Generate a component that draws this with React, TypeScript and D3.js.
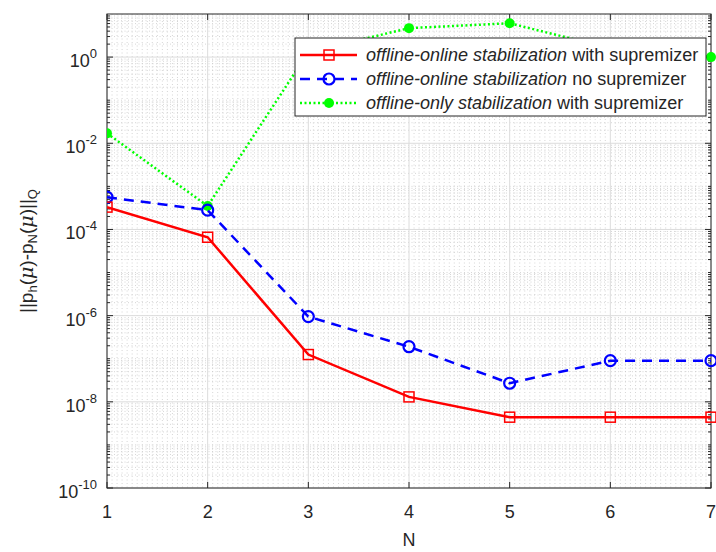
import React from "react";
import * as d3 from "d3";

const Ns = [1, 2, 3, 4, 5, 6, 7];
const redVals = [3.3e-4, 6.6e-5, 1.25e-7, 1.3e-8, 4.4e-9, 4.4e-9, 4.4e-9];
const blueVals = [5.6e-4, 2.8e-4, 9.5e-7, 1.9e-7, 2.7e-8, 9e-8, 9e-8];
const greenVals = [1.7e-2, 3.5e-4, 1.3, 4.7, 6.1, 1.6, 1.0];
const yTickExps = [-10, -8, -6, -4, -2, 0];
const legendItalic = [
  "offline-online stabilization",
  "offline-online stabilization",
  "offline-only stabilization",
];
const legendPlain = [" with supremizer", " no supremizer", " with supremizer"];

const W = 716;
const H = 552;
const L = 107, R = 711, T = 14, B = 488;
const FONT = "'Liberation Sans', Arial, Helvetica, sans-serif";
const TXT = "#262626";

export default function App() {
  const x = d3.scaleLinear().domain([1, 7]).range([L, R]);
  const y = d3.scaleLog().domain([1e-10, 10]).range([B, T]);

  const minorX = d3.range(1, 7.0001, 0.05).filter((v) => Math.abs(v - Math.round(v)) > 1e-6);
  const minorY: number[] = [];
  for (let k = -10; k <= 0; k++) {
    for (let m = 1; m <= 9; m++) {
      if (m === 1 && k % 2 === 0) continue;
      minorY.push(m * Math.pow(10, k));
    }
  }

  const line = d3
    .line<[number, number]>()
    .x((d) => x(d[0]))
    .y((d) => y(d[1]));
  const pts = (vals: number[]) => Ns.map((n, i) => [n, vals[i]] as [number, number]);

  const legX = 295, legY = 38, legW = 411, legH = 78;
  const rowY = [55, 79, 103];
  const colors = ["#ff0000", "#0000ff", "#00ff00"];

  return (
    <svg width={W} height={H} style={{ position: "fixed", left: 0, top: 0, background: "#fff" }} fontFamily={FONT}>
      <rect x={0} y={0} width={W} height={H} fill="#fff" />
      <defs>
        <clipPath id="plotclip">
          <rect x={L} y={T - 8} width={R - L + 8} height={B - T + 16} />
        </clipPath>
      </defs>
      {/* minor grid */}
      {minorX.map((v, i) => (
        <line key={"mx" + i} x1={x(v)} x2={x(v)} y1={T} y2={B} stroke="#c4c4c4" strokeWidth={0.7} strokeDasharray="1,2.5" />
      ))}
      {minorY.map((v, i) => (
        <line key={"my" + i} x1={L} x2={R} y1={y(v)} y2={y(v)} stroke="#c4c4c4" strokeWidth={0.7} strokeDasharray="1,2.5" />
      ))}
      {/* major grid */}
      {Ns.map((n) => (
        <line key={"gx" + n} x1={x(n)} x2={x(n)} y1={T} y2={B} stroke="#dcdcdc" strokeWidth={1} />
      ))}
      {yTickExps.map((e) => (
        <line key={"gy" + e} x1={L} x2={R} y1={y(Math.pow(10, e))} y2={y(Math.pow(10, e))} stroke="#dcdcdc" strokeWidth={1} />
      ))}
      {/* ticks */}
      {Ns.map((n) => (
        <g key={"tx" + n}>
          <line x1={x(n)} x2={x(n)} y1={B} y2={B - 6} stroke={TXT} />
          <line x1={x(n)} x2={x(n)} y1={T} y2={T + 6} stroke={TXT} />
          <text x={x(n)} y={518} textAnchor="middle" fontSize={18} fill={TXT}>{n}</text>
        </g>
      ))}
      {minorY.map((v, i) => (
        <g key={"mty" + i}>
          <line x1={L} x2={L + 3} y1={y(v)} y2={y(v)} stroke={TXT} />
          <line x1={R} x2={R - 3} y1={y(v)} y2={y(v)} stroke={TXT} />
        </g>
      ))}
      {yTickExps.map((e) => (
        <g key={"ty" + e}>
          <line x1={L} x2={L + 6} y1={y(Math.pow(10, e))} y2={y(Math.pow(10, e))} stroke={TXT} />
          <line x1={R} x2={R - 6} y1={y(Math.pow(10, e))} y2={y(Math.pow(10, e))} stroke={TXT} />
          <text x={97} y={y(Math.pow(10, e)) + 10} textAnchor="end" fontSize={18} fill={TXT}>
            10<tspan dy={-9} fontSize={13}>{e === 0 ? "0" : "-" + Math.abs(e)}</tspan>
          </text>
        </g>
      ))}
      {/* frame */}
      <rect x={L} y={T} width={R - L} height={B - T} fill="none" stroke={TXT} strokeWidth={1} />

      {/* series */}
      <g clipPath="url(#plotclip)">
        <path d={line(pts(greenVals)) || ""} fill="none" stroke="#00ff00" strokeWidth={2.5} strokeDasharray="2,2.5" />
        {pts(greenVals).map((p, i) => (
          <circle key={"g" + i} cx={x(p[0])} cy={y(p[1])} r={5} fill="#00ff00" />
        ))}
        <path d={line(pts(blueVals)) || ""} fill="none" stroke="#0000ff" strokeWidth={2.5} strokeDasharray="10,7" />
        {pts(blueVals).map((p, i) => (
          <circle key={"b" + i} cx={x(p[0])} cy={y(p[1])} r={5.5} fill="none" stroke="#0000ff" strokeWidth={2.2} />
        ))}
        <path d={line(pts(redVals)) || ""} fill="none" stroke="#ff0000" strokeWidth={2.5} />
        {pts(redVals).map((p, i) => (
          <rect key={"r" + i} x={x(p[0]) - 5} y={y(p[1]) - 5} width={10} height={10} fill="none" stroke="#ff0000" strokeWidth={1.5} />
        ))}
      </g>

      {/* legend */}
      <rect x={legX} y={legY} width={legW} height={legH} fill="#fff" stroke={TXT} strokeWidth={1} />
      {rowY.map((ry, i) => (
        <g key={"leg" + i}>
          <line x1={300} x2={357} y1={ry} y2={ry} stroke={colors[i]} strokeWidth={2.5}
            strokeDasharray={i === 1 ? "10,7" : i === 2 ? "2,2.5" : undefined} />
          {i === 0 && <rect x={324} y={ry - 5} width={10} height={10} fill="none" stroke={colors[0]} strokeWidth={1.5} />}
          {i === 1 && <circle cx={329} cy={ry} r={5.5} fill="none" stroke={colors[1]} strokeWidth={2.2} />}
          {i === 2 && <circle cx={329} cy={ry} r={5} fill={colors[2]} />}
          <text x={366} y={ry + 6} fontSize={18} fill={TXT}>
            <tspan fontStyle="italic">{legendItalic[i]}</tspan>
            <tspan>{legendPlain[i]}</tspan>
          </text>
        </g>
      ))}

      {/* axis labels */}
      <text x={409} y={546} textAnchor="middle" fontSize={18} fill={TXT}>N</text>
      <text transform="translate(33,251) rotate(-90)" textAnchor="middle" fontSize={19} fill={TXT}>
        ||p<tspan dy={4} fontSize={13}>h</tspan>
        <tspan dy={-4}>(</tspan>
        <tspan fontStyle="italic" fontFamily="'DejaVu Serif', serif">μ</tspan>
        <tspan>)-p</tspan>
        <tspan dy={4} fontSize={13}>N</tspan>
        <tspan dy={-4}>(</tspan>
        <tspan fontStyle="italic" fontFamily="'DejaVu Serif', serif">μ</tspan>
        <tspan>)||</tspan>
        <tspan dy={4} fontSize={13}>Q</tspan>
      </text>
    </svg>
  );
}
